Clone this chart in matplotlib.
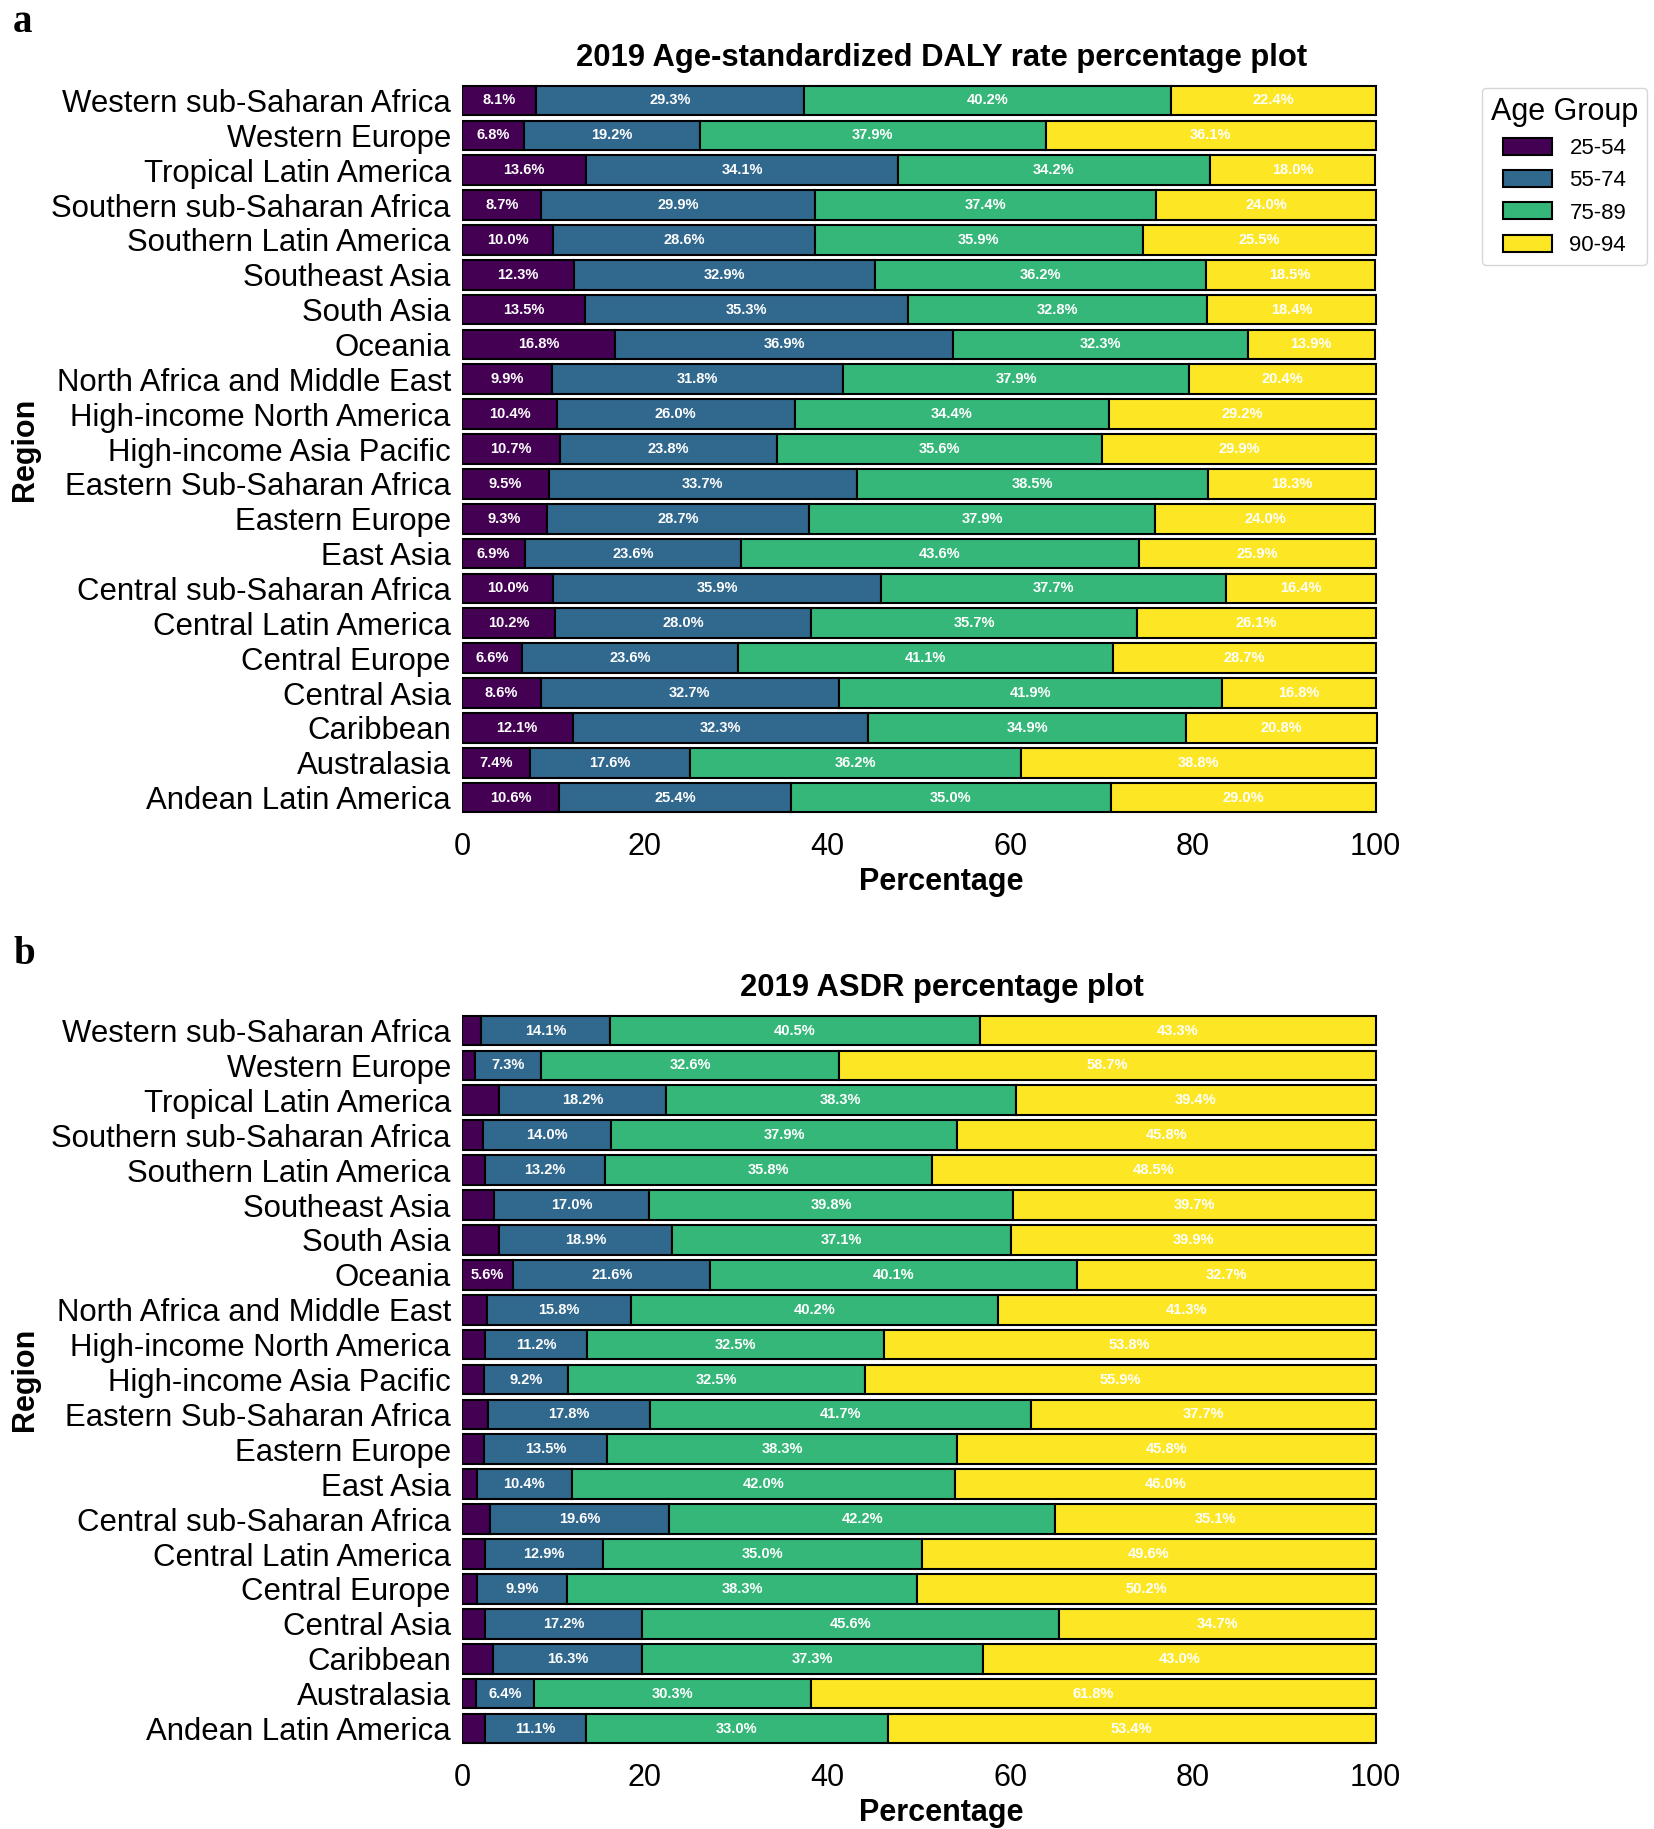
import matplotlib
matplotlib.use("Agg")
import matplotlib.pyplot as plt
import numpy as np

plt.rcParams['font.family'] = ['Liberation Sans', 'DejaVu Sans']

regions = ['Western sub-Saharan Africa', 'Western Europe', 'Tropical Latin America',
           'Southern sub-Saharan Africa', 'Southern Latin America', 'Southeast Asia',
           'South Asia', 'Oceania', 'North Africa and Middle East',
           'High-income North America', 'High-income Asia Pacific',
           'Eastern Sub-Saharan Africa', 'Eastern Europe', 'East Asia',
           'Central sub-Saharan Africa', 'Central Latin America', 'Central Europe',
           'Central Asia', 'Caribbean', 'Australasia', 'Andean Latin America']

age_groups = ['25-54', '55-74', '75-89', '90-94']
colors = ['#440154', '#31688e', '#35b779', '#fde725']

# panel a: DALY rate shares (top to bottom)
daly_25_54 = [8.1, 6.8, 13.6, 8.7, 10.0, 12.3, 13.5, 16.8, 9.9, 10.4, 10.7,
              9.5, 9.3, 6.9, 10.0, 10.2, 6.6, 8.6, 12.1, 7.4, 10.6]
daly_55_74 = [29.3, 19.2, 34.1, 29.9, 28.6, 32.9, 35.3, 36.9, 31.8, 26.0, 23.8,
              33.7, 28.7, 23.6, 35.9, 28.0, 23.6, 32.7, 32.3, 17.6, 25.4]
daly_75_89 = [40.2, 37.9, 34.2, 37.4, 35.9, 36.2, 32.8, 32.3, 37.9, 34.4, 35.6,
              38.5, 37.9, 43.6, 37.7, 35.7, 41.1, 41.9, 34.9, 36.2, 35.0]
daly_90_94 = [22.4, 36.1, 18.0, 24.0, 25.5, 18.5, 18.4, 13.9, 20.4, 29.2, 29.9,
              18.3, 24.0, 25.9, 16.4, 26.1, 28.7, 16.8, 20.8, 38.8, 29.0]

# panel b: ASDR shares (top to bottom)
asdr_25_54 = [2.1, 1.4, 4.1, 2.3, 2.5, 3.5, 4.1, 5.6, 2.7, 2.5, 2.4,
              2.8, 2.4, 1.6, 3.1, 2.5, 1.6, 2.5, 3.4, 1.5, 2.5]
asdr_55_74 = [14.1, 7.3, 18.2, 14.0, 13.2, 17.0, 18.9, 21.6, 15.8, 11.2, 9.2,
              17.8, 13.5, 10.4, 19.6, 12.9, 9.9, 17.2, 16.3, 6.4, 11.1]
asdr_75_89 = [40.5, 32.6, 38.3, 37.9, 35.8, 39.8, 37.1, 40.1, 40.2, 32.5, 32.5,
              41.7, 38.3, 42.0, 42.2, 35.0, 38.3, 45.6, 37.3, 30.3, 33.0]
asdr_90_94 = [43.3, 58.7, 39.4, 45.8, 48.5, 39.7, 39.9, 32.7, 41.3, 53.8, 55.9,
              37.7, 45.8, 46.0, 35.1, 49.6, 50.2, 34.7, 43.0, 61.8, 53.4]


def stacked(ax, series, title):
    y = np.arange(len(regions))
    left = np.zeros(len(regions))
    for vals, name, c in zip(series, age_groups, colors):
        vals = np.array(vals)
        ax.barh(y, vals, left=left, height=0.85, color=c, edgecolor='black',
                linewidth=1.5, label=name)
        for yi, (l, v) in enumerate(zip(left, vals)):
            if v >= 5:
                ax.text(l + v / 2, yi, f'{v:.1f}%', ha='center', va='center',
                        color='white', fontsize=10.5, fontweight='bold')
        left += vals
    ax.set_yticks(y)
    ax.set_yticklabels(regions, fontsize=22.4)
    ax.set_ylim(len(regions) - 0.5, -0.5)
    ax.set_xlim(0, 105)   # default right-hand margin of the bar plot
    ax.set_xticks([0, 20, 40, 60, 80, 100])
    ax.tick_params(axis='x', labelsize=22, length=0, pad=12)
    ax.tick_params(axis='y', length=0, pad=8)
    ax.set_xlabel('Percentage', fontsize=22, fontweight='bold', labelpad=4)
    ax.set_ylabel('Region', fontsize=22, fontweight='bold', labelpad=8)
    ax.set_title(title, fontsize=22.3, fontweight='bold', pad=12)
    for s in ax.spines.values():
        s.set_visible(False)


fig = plt.figure(figsize=(16.54, 18.29), dpi=100)
ax1 = fig.add_axes([0.2793, 0.5544, 0.5800, 0.4002])
ax2 = fig.add_axes([0.2793, 0.0454, 0.5800, 0.4007])

stacked(ax1, [daly_25_54, daly_55_74, daly_75_89, daly_90_94],
        '2019 Age-standardized DALY rate percentage plot')
stacked(ax2, [asdr_25_54, asdr_55_74, asdr_75_89, asdr_90_94],
        '2019 ASDR percentage plot')

ax1.legend(title='Age Group', loc='upper left', bbox_to_anchor=(0.896, 0.952),
           bbox_transform=fig.transFigure, borderaxespad=0, fontsize=16,
           title_fontsize=22, frameon=True, edgecolor='#cccccc',
           handlelength=2.2, handleheight=0.8)

fig.text(0.008, 0.998, 'a', fontsize=28, fontweight='bold',
         family='Liberation Serif', va='top')
fig.text(0.008, 0.488, 'b', fontsize=28, fontweight='bold',
         family='Liberation Serif', va='top')

fig.savefig('out.png', dpi=100)
